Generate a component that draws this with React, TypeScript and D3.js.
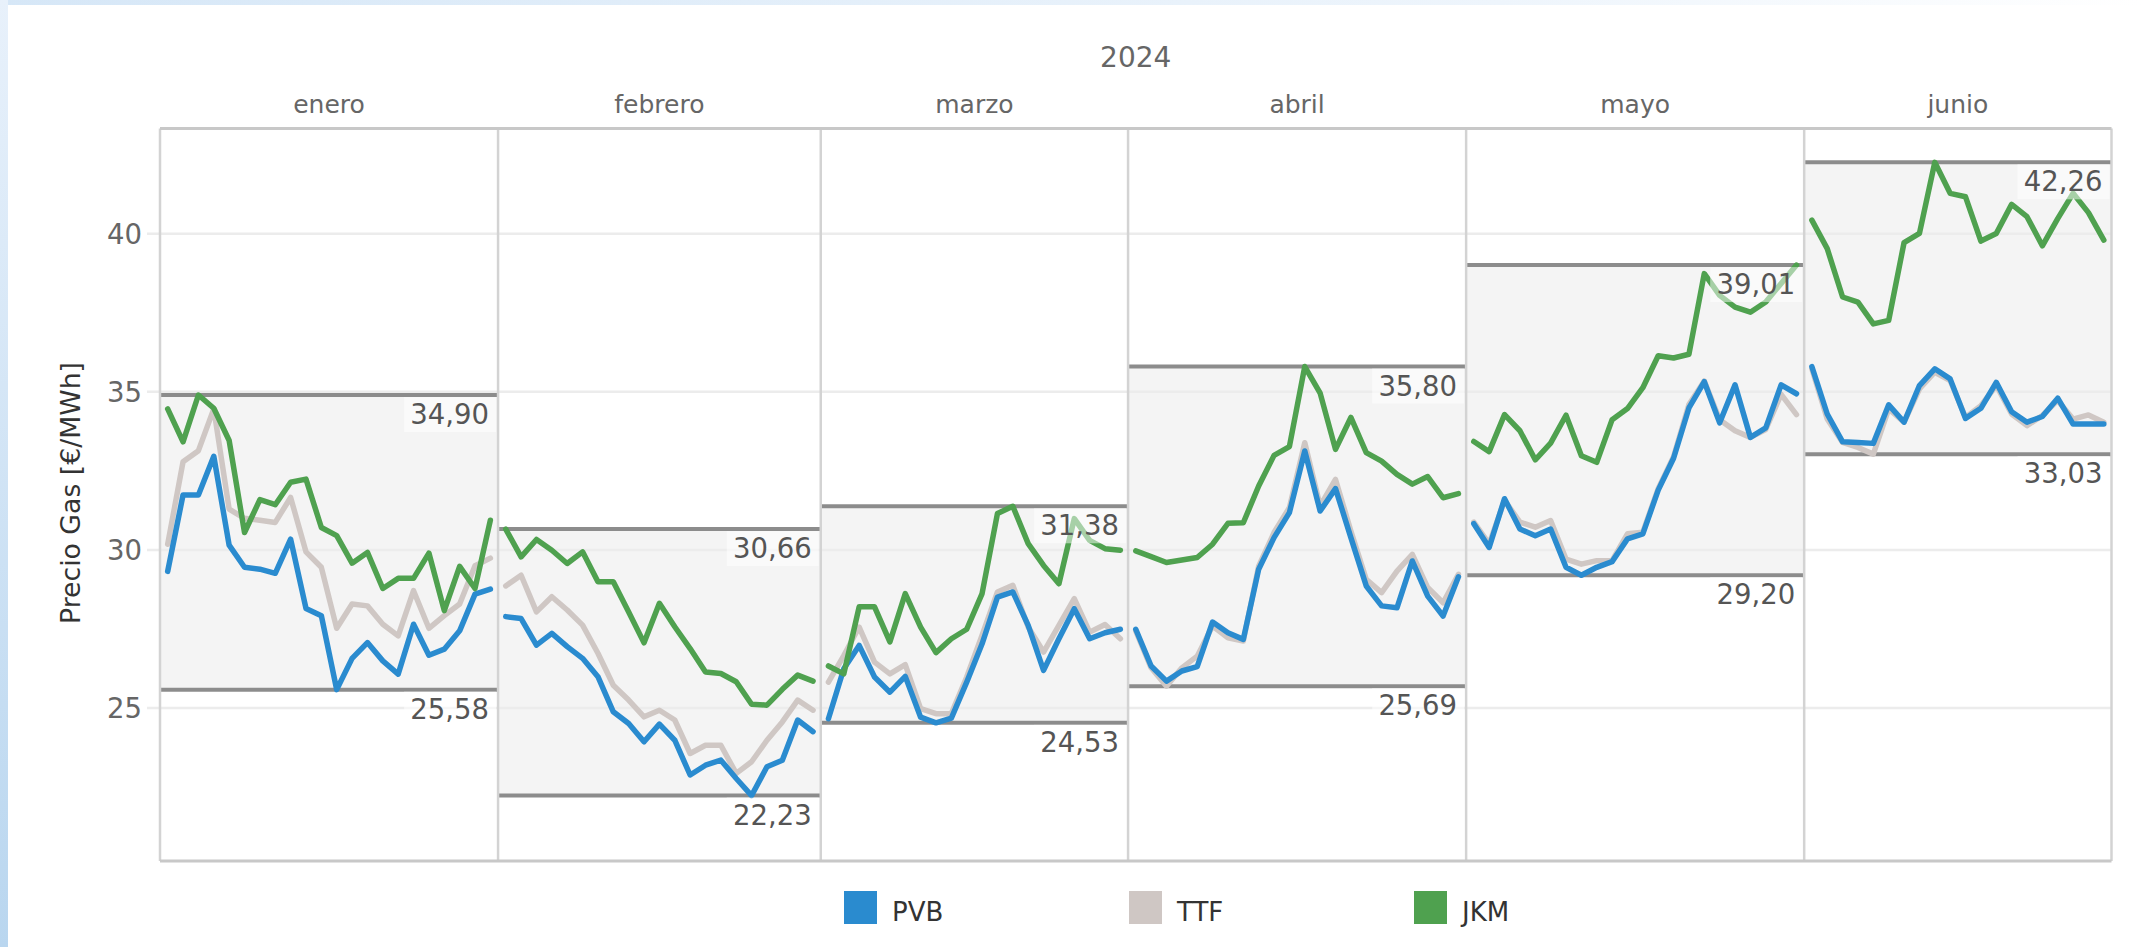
import React from 'react';
import * as d3 from 'd3';

const months = ['enero', 'febrero', 'marzo', 'abril', 'mayo', 'junio'];
const monthDays = [22, 21, 20, 22, 22, 20];
const yTicks = [25, 30, 35, 40];

// daily prices, €/MWh, months concatenated in order
const pvb = [
  29.32, 31.74, 31.74, 32.96, 30.15, 29.45, 29.39, 29.26, 30.34, 28.15, 27.92, 25.58, 26.57, 27.07, 26.49, 26.07, 27.65, 26.67, 26.86, 27.44, 28.6, 28.76,
  27.89, 27.83, 26.99, 27.36, 26.94, 26.57, 25.99, 24.88, 24.51, 23.93, 24.49, 23.98, 22.88, 23.19, 23.35, 22.77, 22.23, 23.14, 23.35, 24.62, 24.25,
  24.66, 26.24, 26.98, 25.98, 25.5, 26.0, 24.71, 24.53, 24.68, 25.82, 27.03, 28.51, 28.67, 27.61, 26.19, 27.19, 28.14, 27.19, 27.38, 27.49,
  27.49, 26.33, 25.85, 26.17, 26.31, 27.72, 27.38, 27.17, 29.39, 30.39, 31.18, 33.13, 31.23, 31.94, 30.39, 28.86, 28.23, 28.17, 29.65, 28.54, 27.91, 29.15,
  30.83, 30.08, 31.62, 30.66, 30.45, 30.66, 29.45, 29.2, 29.45, 29.63, 30.35, 30.51, 31.89, 32.9, 34.49, 35.32, 34.02, 35.22, 33.56, 33.86, 35.22, 34.94,
  35.8, 34.3, 33.42, 33.4, 33.37, 34.59, 34.04, 35.2, 35.73, 35.41, 34.16, 34.48, 35.3, 34.37, 34.04, 34.22, 34.8, 33.98, 33.98, 33.98,
];
const ttf = [
  30.18, 32.79, 33.14, 34.46, 31.29, 31.0, 30.94, 30.87, 31.66, 29.94, 29.45, 27.52, 28.29, 28.23, 27.65, 27.28, 28.71, 27.52, 27.92, 28.29, 29.5, 29.74,
  28.86, 29.2, 28.04, 28.52, 28.1, 27.62, 26.73, 25.72, 25.25, 24.72, 24.93, 24.62, 23.56, 23.82, 23.82, 22.93, 23.3, 23.98, 24.56, 25.25, 24.93,
  25.82, 26.66, 27.56, 26.45, 26.08, 26.37, 24.98, 24.82, 24.82, 25.98, 27.3, 28.67, 28.88, 27.56, 26.77, 27.61, 28.46, 27.4, 27.64, 27.19,
  27.44, 26.27, 25.69, 26.27, 26.64, 27.59, 27.22, 27.12, 29.49, 30.55, 31.34, 33.39, 31.39, 32.23, 30.6, 29.07, 28.65, 29.33, 29.86, 28.81, 28.33, 29.23,
  30.88, 30.19, 31.57, 30.88, 30.72, 30.93, 29.71, 29.55, 29.66, 29.66, 30.51, 30.56, 31.94, 32.95, 34.6, 35.34, 34.12, 33.77, 33.56, 33.81, 34.92, 34.28,
  35.73, 34.14, 33.4, 33.24, 33.03, 34.46, 34.04, 35.09, 35.62, 35.36, 34.19, 34.56, 35.2, 34.3, 33.93, 34.25, 34.73, 34.14, 34.27, 34.04,
];
const jkm = [
  34.46, 33.42, 34.9, 34.48, 33.46, 30.55, 31.59, 31.43, 32.14, 32.24, 30.71, 30.45, 29.58, 29.92, 28.78, 29.1, 29.1, 29.9, 28.08, 29.48, 28.78, 30.94,
  30.66, 29.78, 30.33, 29.99, 29.57, 29.94, 28.99, 28.99, 28.04, 27.06, 28.31, 27.57, 26.88, 26.14, 26.09, 25.83, 25.12, 25.09, 25.59, 26.04, 25.85,
  26.33, 26.08, 28.2, 28.2, 27.09, 28.62, 27.56, 26.75, 27.19, 27.49, 28.62, 31.15, 31.38, 30.2, 29.51, 28.93, 30.99, 30.3, 30.04, 29.99,
  29.97, 29.79, 29.6, 29.68, 29.76, 30.18, 30.84, 30.86, 32.02, 32.99, 33.27, 35.8, 34.96, 33.18, 34.19, 33.08, 32.81, 32.39, 32.08, 32.32, 31.65, 31.78,
  33.43, 33.11, 34.28, 33.77, 32.85, 33.38, 34.26, 32.98, 32.77, 34.12, 34.47, 35.13, 36.14, 36.07, 36.19, 38.74, 38.05, 37.68, 37.52, 37.84, 38.43, 39.01,
  40.43, 39.53, 38.0, 37.84, 37.15, 37.26, 39.72, 40.01, 42.26, 41.28, 41.17, 39.77, 40.01, 40.93, 40.54, 39.62, 40.48, 41.28, 40.67, 39.8,
];

const series = [
  { name: 'PVB', values: pvb, color: '#2a8bcf' },
  { name: 'TTF', values: ttf, color: '#cfc7c4' },
  { name: 'JKM', values: jkm, color: '#4fa14f' },
];
const drawOrder = [1, 0, 2];

const W = 2143;
const H = 947;
const plot = { left: 160, right: 2111.5, top: 128.5, bottom: 861 };
const font = '"DejaVu Sans", sans-serif';

const es = d3.formatLocale({ decimal: ',', thousands: '.', grouping: [3], currency: ['', '€'] });
const fmt = es.format('.2f');

export default function App() {
  const total = d3.sum(monthDays);
  const x = d3.scaleBand<number>().domain(d3.range(total)).range([plot.left, plot.right]);
  const y = d3.scaleLinear().domain([20.16, 43.33]).range([plot.bottom, plot.top]);
  const bw = x.bandwidth();

  const starts = monthDays.map((_, i) => d3.sum(monthDays.slice(0, i)));
  const panels = months.map((m, i) => {
    const idx = d3.range(starts[i], starts[i] + monthDays[i]);
    const all = series.flatMap(s => idx.map(j => s.values[j]));
    return {
      name: m,
      idx,
      x0: x(starts[i])!,
      x1: x(starts[i])! + monthDays[i] * bw,
      max: d3.max(all)!,
      min: d3.min(all)!,
    };
  });

  const labelW = 79;

  return (
    <svg width={W} height={H} style={{ position: 'absolute', left: 0, top: 0 }} fontFamily={font}>
      <defs>
        <linearGradient id="leftStrip" x1="0" y1="0" x2="0" y2="1">
          <stop offset="0" stopColor="#e8f1fb" />
          <stop offset="1" stopColor="#b9d6ef" />
        </linearGradient>
        <linearGradient id="topStrip" x1="0" y1="0" x2="1" y2="0">
          <stop offset="0" stopColor="#d6e7f7" />
          <stop offset="0.7" stopColor="#eef5fc" />
          <stop offset="1" stopColor="#ffffff" />
        </linearGradient>
      </defs>
      <rect width={W} height={H} fill="#fff" />
      <rect x={0} y={0} width={W} height={5} fill="url(#topStrip)" />
      <rect x={0} y={0} width={8} height={H} fill="url(#leftStrip)" />

      {/* headers */}
      <text x={(plot.left + plot.right) / 2} y={67} textAnchor="middle" fontSize={28} fill="#666">
        2024
      </text>
      {panels.map(p => (
        <text key={p.name} x={(p.x0 + p.x1) / 2} y={113} textAnchor="middle" fontSize={25} fill="#666">
          {p.name}
        </text>
      ))}

      {/* reference bands */}
      {panels.map(p => (
        <rect key={'b' + p.name} x={p.x0} y={y(p.max)} width={p.x1 - p.x0} height={y(p.min) - y(p.max)} fill="#f4f4f4" />
      ))}

      {/* gridlines and y ticks */}
      {yTicks.map(t => (
        <g key={t}>
          <line x1={147} x2={plot.right} y1={y(t)} y2={y(t)} stroke="#ececec" strokeWidth={2.5} />
          <text x={142} y={y(t)} dy="0.36em" textAnchor="end" fontSize={27.5} fill="#666">
            {t}
          </text>
        </g>
      ))}

      {/* reference lines */}
      {panels.map(p => (
        <g key={'r' + p.name}>
          <line x1={p.x0} x2={p.x1} y1={y(p.max)} y2={y(p.max)} stroke="#8c8c8c" strokeWidth={4} />
          <line x1={p.x0} x2={p.x1} y1={y(p.min)} y2={y(p.min)} stroke="#8c8c8c" strokeWidth={4} />
        </g>
      ))}

      {/* series lines, one path per month */}
      {drawOrder.map(si => {
        const s = series[si];
        const ln = d3
          .line<number>()
          .x(j => x(j)! + bw / 2)
          .y(j => y(s.values[j]));
        return (
          <g key={s.name}>
            {panels.map(p => (
              <path
                key={p.name}
                d={ln(p.idx) || ''}
                fill="none"
                stroke={s.color}
                strokeWidth={5.5}
                strokeLinejoin="round"
                strokeLinecap="round"
              />
            ))}
          </g>
        );
      })}

      {/* min / max labels */}
      {panels.map(p =>
        [p.max, p.min].map((v, k) => (
          <g key={p.name + k}>
            <rect
              x={p.x1 - 9 - labelW - 6}
              y={y(v) + 2}
              width={labelW + 13}
              height={35}
              fill="#fff"
              fillOpacity={0.5}
            />
            <text x={p.x1 - 9} y={y(v) + 29} textAnchor="end" fontSize={27.5} fill="#555">
              {fmt(v)}
            </text>
          </g>
        ))
      )}

      {/* panel borders */}
      {panels.map((p, i) => (
        <line key={'v' + i} x1={p.x0} x2={p.x0} y1={plot.top} y2={plot.bottom} stroke="#d3d3d3" strokeWidth={2.5} />
      ))}
      <line x1={plot.right} x2={plot.right} y1={plot.top} y2={plot.bottom} stroke="#d3d3d3" strokeWidth={2.5} />
      <line x1={plot.left} x2={plot.right} y1={plot.top} y2={plot.top} stroke="#c8c8c8" strokeWidth={3} />
      <line x1={plot.left} x2={plot.right} y1={plot.bottom} y2={plot.bottom} stroke="#c8c8c8" strokeWidth={3} />

      {/* y axis title */}
      <text
        transform={`translate(80,493) rotate(-90)`}
        textAnchor="middle"
        fontSize={26}
        textLength={262}
        lengthAdjust="spacingAndGlyphs"
        fill="#333"
      >
        Precio Gas [€/MWh]
      </text>

      {/* legend */}
      {series.map((s, i) => (
        <g key={'l' + s.name} transform={`translate(${844 + i * 285},891)`}>
          <rect width={33} height={33} fill={s.color} />
          <text x={48} y={30} fontSize={26} fill="#333">
            {s.name}
          </text>
        </g>
      ))}
    </svg>
  );
}
